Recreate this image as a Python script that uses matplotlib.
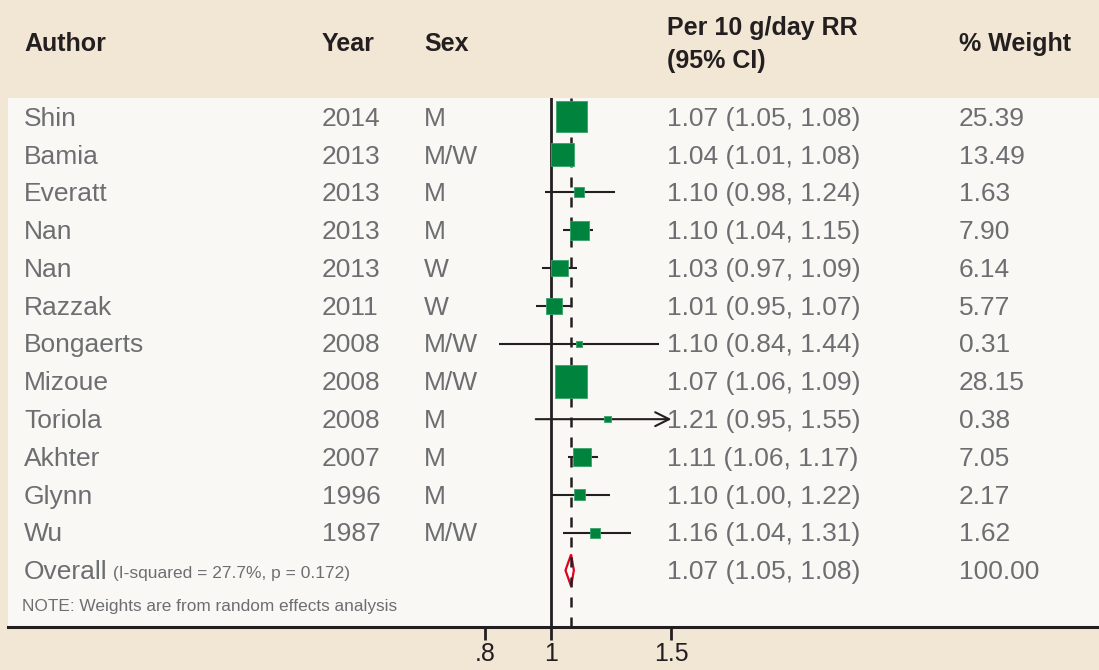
import matplotlib
matplotlib.use("Agg")
import matplotlib.pyplot as plt
import numpy as np
from matplotlib.transforms import blended_transform_factory
from matplotlib.patches import Polygon

authors = ["Shin", "Bamia", "Everatt", "Nan", "Nan", "Razzak", "Bongaerts",
           "Mizoue", "Toriola", "Akhter", "Glynn", "Wu"]
years = ["2014", "2013", "2013", "2013", "2013", "2011", "2008", "2008",
         "2008", "2007", "1996", "1987"]
sexes = ["M", "M/W", "M", "M", "W", "W", "M/W", "M/W", "M", "M", "M", "M/W"]
rr = [1.07, 1.04, 1.10, 1.10, 1.03, 1.01, 1.10, 1.07, 1.21, 1.11, 1.10, 1.16]
lo = [1.05, 1.01, 0.98, 1.04, 0.97, 0.95, 0.84, 1.06, 0.95, 1.06, 1.00, 1.04]
hi = [1.08, 1.08, 1.24, 1.15, 1.09, 1.07, 1.44, 1.09, 1.55, 1.17, 1.22, 1.31]
weights = [25.39, 13.49, 1.63, 7.90, 6.14, 5.77, 0.31, 28.15, 0.38, 7.05, 2.17, 1.62]
overall_rr, overall_lo, overall_hi = 1.07, 1.05, 1.08
overall_weight = "100.00"
xticks = [0.8, 1.0, 1.5]
xtick_labels = [".8", "1", "1.5"]
plot_max = 1.5

W, H = 1099, 670
BG = "#f2e6d5"
PANEL = "#f9f8f4"
GREEN = "#00843d"
GRAY = "#6d6e71"
DARK = "#231f20"

plt.rcParams['font.family'] = ['Liberation Sans', 'DejaVu Sans']

fig = plt.figure(figsize=(W / 100, H / 100), dpi=100, facecolor=BG)
ax = fig.add_axes([8 / W, (H - 627) / H, 1 - 8 / W, (627 - 98) / H])
ax.set_facecolor(PANEL)
ax.set_xscale("log")
# x pixel -> log scale; 297 px per ln unit, 1.0 at pixel 551
k = 297.0
ax.set_xlim(np.exp((8 - 551) / k), np.exp((1099 - 551) / k))
ax.set_ylim(13.5, -0.5)
for s in ["left", "right", "top"]:
    ax.spines[s].set_visible(False)
ax.spines["bottom"].set_linewidth(2.2)
ax.spines["bottom"].set_color(DARK)
ax.set_xticks(xticks)
ax.set_xticklabels(xtick_labels)
ax.xaxis.set_minor_locator(matplotlib.ticker.NullLocator())
ax.tick_params(axis="x", direction="out", length=9, width=2, color=DARK,
               labelsize=18, labelcolor=DARK, pad=2)
ax.set_yticks([])

# overall diamond (under the dashed line)
n = len(authors)
oy = n
dh = 0.42
diamond = Polygon([[overall_lo, oy], [overall_rr, oy - dh], [overall_hi, oy],
                   [overall_rr, oy + dh]], closed=True, facecolor="white",
                  edgecolor="#e2001a", lw=1.6, zorder=0.8)
ax.add_patch(diamond)

# reference lines
ax.axvline(1.0, color=DARK, lw=2, zorder=1)
ax.axvline(overall_rr, color=DARK, lw=1.8, ls=(0, (4, 4)), zorder=1)

ys = np.arange(n)
for i in range(n):
    h = min(hi[i], plot_max)
    if hi[i] > plot_max:
        ax.annotate("", xy=(plot_max, ys[i]), xytext=(lo[i], ys[i]),
                    arrowprops=dict(arrowstyle="->", color=DARK, lw=1.5,
                                    mutation_scale=25, shrinkA=0, shrinkB=0),
                    zorder=2)
    else:
        ax.plot([lo[i], h], [ys[i], ys[i]], color=DARK, lw=1.5, zorder=2,
                solid_capstyle="butt")

side_px = 2.9 + 5.58 * np.sqrt(np.array(weights))
sizes = (side_px * 0.72) ** 2
ax.scatter(rr, ys, s=sizes, marker="s", color=GREEN, edgecolors="#3aa36a",
           linewidths=0.6, zorder=3)

tr = blended_transform_factory(fig.transFigure, ax.transData)
fs = 19
dy = 0.05
col_x = {"author": 24, "year": 322, "sex": 424, "ci": 667, "w": 959}
for i in range(n):
    ty = ys[i] + dy
    ax.text(col_x["author"] / W, ty, authors[i], transform=tr, fontsize=fs,
            color=GRAY, va="center", ha="left")
    ax.text(col_x["year"] / W, ty, years[i], transform=tr, fontsize=fs,
            color=GRAY, va="center", ha="left")
    ax.text(col_x["sex"] / W, ty, sexes[i], transform=tr, fontsize=fs,
            color=GRAY, va="center", ha="left")
    ax.text(col_x["ci"] / W, ty, f"{rr[i]:.2f} ({lo[i]:.2f}, {hi[i]:.2f})",
            transform=tr, fontsize=fs, color=GRAY, va="center", ha="left")
    ax.text(col_x["w"] / W, ty, f"{weights[i]:.2f}", transform=tr,
            fontsize=fs, color=GRAY, va="center", ha="left")

t = ax.text(col_x["author"] / W, oy + dy, "Overall", transform=tr, fontsize=fs,
            color=GRAY, va="center", ha="left")
ax.annotate(" (I-squared = 27.7%, p = 0.172)", xycoords=t, xy=(1, 0.45),
            fontsize=12.5, color=GRAY, va="center", ha="left")
ax.text(col_x["ci"] / W, oy + dy,
        f"{overall_rr:.2f} ({overall_lo:.2f}, {overall_hi:.2f})",
        transform=tr, fontsize=fs, color=GRAY, va="center", ha="left")
ax.text(col_x["w"] / W, oy + dy, overall_weight, transform=tr, fontsize=fs,
        color=GRAY, va="center", ha="left")
ax.text(22 / W, n + 0.97,
        "NOTE: Weights are from random effects analysis", transform=tr,
        fontsize=12.4, color=GRAY, va="center", ha="left")

# header
hfs = 18
hy = 1 - 44 / H
for key, lab in [("author", "Author"), ("year", "Year"), ("sex", "Sex"),
                 ("w", "% Weight")]:
    fig.text(col_x[key] / W, hy, lab, fontsize=hfs, fontweight="bold",
             color=DARK, va="center", ha="left")
fig.text(col_x["ci"] / W, 1 - 28 / H, "Per 10 g/day RR", fontsize=hfs,
         fontweight="bold", color=DARK, va="center", ha="left")
fig.text(col_x["ci"] / W, 1 - 61 / H, "(95% CI)", fontsize=hfs,
         fontweight="bold", color=DARK, va="center", ha="left")

fig.savefig("out.png", dpi=100, facecolor=BG)
